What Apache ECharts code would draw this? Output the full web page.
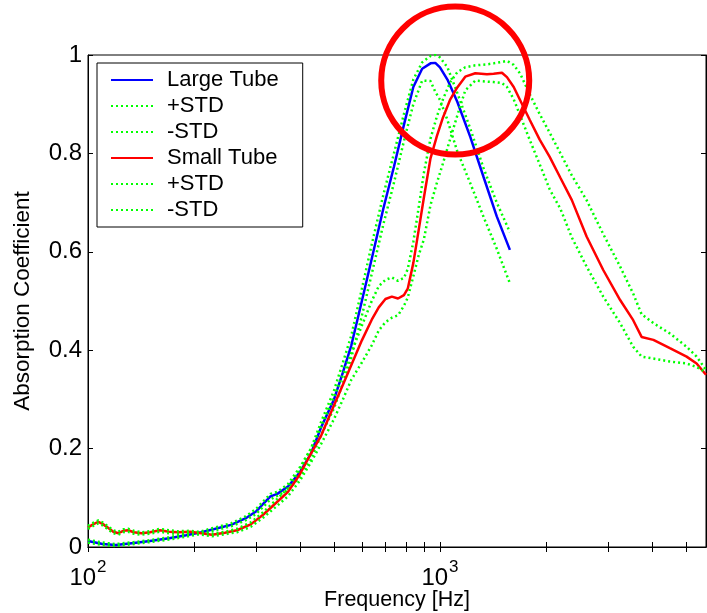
<!DOCTYPE html>
<html><head><meta charset="utf-8">
<script src="https://cdn.jsdelivr.net/npm/echarts@6/dist/echarts.min.js"></script>
<style>html,body{margin:0;padding:0;background:#fff}#c{width:707px;height:613px}</style>
</head><body><div id="c"></div>
<script>
// ---- data ----
const largeFreq=[100,110,120,135,150,170,190,210,230,255,280,300,315,330,345,370,400,430,460,500,530,560,600,640,690,740,790,840,890,940,970,1000,1050,1120,1220,1330,1450,1580];
const largeMean=[0.012,0.006,0.004,0.008,0.012,0.018,0.024,0.030,0.037,0.045,0.058,0.072,0.088,0.103,0.108,0.123,0.152,0.19,0.244,0.30,0.355,0.41,0.50,0.586,0.687,0.773,0.858,0.935,0.972,0.983,0.984,0.975,0.95,0.905,0.833,0.752,0.672,0.604];
const largePlus=[0.015,0.009,0.006,0.010,0.014,0.020,0.026,0.032,0.040,0.048,0.062,0.077,0.093,0.108,0.112,0.128,0.162,0.20,0.255,0.318,0.375,0.43,0.525,0.615,0.715,0.80,0.88,0.95,0.985,0.998,1.0,0.995,0.975,0.923,0.85,0.77,0.70,0.64];
const largeMinus=[0.009,0.004,0.002,0.006,0.010,0.015,0.021,0.027,0.034,0.042,0.054,0.067,0.082,0.097,0.104,0.116,0.142,0.178,0.228,0.282,0.333,0.385,0.47,0.555,0.655,0.74,0.825,0.90,0.948,0.947,0.925,0.909,0.868,0.804,0.739,0.671,0.606,0.536];

const smallFreq=[100,104,107,110,114,118,122,126,130,135,142,150,160,170,180,195,210,225,245,265,290,315,345,370,400,430,460,500,530,560,600,640,670,700,730,760,790,810,840,870,900,940,980,1020,1070,1120,1180,1260,1360,1420,1500,1550,1620,1690,1800,1920,2050,2200,2370,2610,2910,3250,3540,3740,4040,4500,5020,5360,5700];
const smallMean=[0.040,0.047,0.051,0.047,0.039,0.031,0.028,0.033,0.034,0.030,0.028,0.030,0.034,0.031,0.030,0.031,0.028,0.025,0.029,0.034,0.046,0.066,0.092,0.112,0.148,0.19,0.227,0.288,0.33,0.37,0.42,0.462,0.487,0.504,0.509,0.505,0.512,0.525,0.577,0.644,0.71,0.79,0.835,0.873,0.91,0.934,0.956,0.963,0.961,0.962,0.964,0.955,0.935,0.908,0.868,0.828,0.793,0.75,0.705,0.631,0.563,0.502,0.461,0.427,0.421,0.404,0.387,0.373,0.35];
const smallPlus=[0.043,0.050,0.054,0.050,0.042,0.034,0.031,0.036,0.037,0.033,0.030,0.032,0.037,0.034,0.032,0.033,0.030,0.027,0.031,0.037,0.050,0.071,0.098,0.12,0.158,0.20,0.245,0.305,0.35,0.395,0.45,0.50,0.53,0.543,0.548,0.541,0.547,0.565,0.62,0.69,0.76,0.83,0.875,0.91,0.945,0.965,0.975,0.979,0.981,0.983,0.986,0.988,0.98,0.962,0.92,0.88,0.842,0.80,0.755,0.705,0.636,0.57,0.515,0.473,0.455,0.434,0.407,0.387,0.36];
const smallMinus=[0.037,0.044,0.048,0.044,0.036,0.028,0.025,0.030,0.031,0.027,0.025,0.027,0.031,0.028,0.027,0.028,0.025,0.022,0.026,0.030,0.041,0.060,0.084,0.103,0.135,0.172,0.21,0.26,0.30,0.34,0.375,0.41,0.44,0.457,0.466,0.471,0.49,0.507,0.55,0.593,0.625,0.695,0.74,0.78,0.83,0.877,0.928,0.948,0.946,0.945,0.943,0.935,0.91,0.877,0.827,0.778,0.727,0.687,0.629,0.57,0.509,0.455,0.407,0.387,0.383,0.377,0.373,0.366,0.355];

const xLabelValues=[100,1000];
const xTickValues=[100,200,300,400,500,600,700,800,900,1000,2000,3000,4000,5000];
const yTickInterval=0.2;
const legendNames=['large','largePlus','largeMinus','small','smallPlus','smallMinus'];
const legendLabels={large:'Large Tube',largePlus:'+STD',largeMinus:'-STD',small:'Small Tube',smallPlus:'+STD',smallMinus:'-STD'};
const xName='Frequency [Hz]';
const yName='Absorption Coefficient';
const highlight={freq:1105,value:0.948,radius:74};

// ---- chart ----
const FONT='"Liberation Sans", Arial, Helvetica, sans-serif';
const pairs=(f,v)=>f.map((x,i)=>[x,v[i]]);
const chart=echarts.init(document.getElementById('c'),null,{renderer:'canvas'});

const tickStyle={show:true,inside:true,length:5,lineStyle:{color:'#000',width:1}};
const axisLine={show:true,lineStyle:{color:'#000',width:1}};

function solid(name,color,f,v){return {name,type:'line',data:pairs(f,v),symbol:'none',showSymbol:false,smooth:false,
  lineStyle:{color,width:2.5,type:'solid'},itemStyle:{color},animation:false};}
function dotted(name,f,v){return {name,type:'line',data:pairs(f,v),symbol:'none',showSymbol:false,smooth:false,
  lineStyle:{color:'#00ff00',width:2.5,type:[2,3],cap:'butt'},itemStyle:{color:'#00ff00'},animation:false};}

const option={
  backgroundColor:'#fff',
  animation:false,
  grid:{left:88,top:55,right:1,bottom:66,containLabel:false,outerBoundsMode:'none',
        show:true,borderColor:'#000',borderWidth:1,backgroundColor:'transparent'},
  legend:{
    data:legendNames, orient:'vertical', left:97, top:63,
    itemWidth:42, itemHeight:6, itemGap:0,
    padding:[4,24,4,13],
    borderColor:'#000', borderWidth:1, borderRadius:0, backgroundColor:'#fff',
    selectedMode:false,
    itemStyle:{opacity:0,borderWidth:0},
    formatter:n=>legendLabels[n],
    textStyle:{fontFamily:FONT,fontSize:22,color:'#000',lineHeight:26,padding:[0,0,0,9]}
  },
  xAxis:[
    {type:'log',logBase:10,min:100,max:5700,position:'bottom',
     name:xName,nameLocation:'middle',nameGap:42,nameMoveOverlap:false,
     nameTextStyle:{fontFamily:FONT,fontSize:21.5,color:'#000'},
     axisLine, splitLine:{show:false}, minorTick:{show:false},
     axisTick:Object.assign({},tickStyle,{customValues:xTickValues}),
     axisLabel:{customValues:xLabelValues,margin:12,color:'#000',fontFamily:FONT,
       formatter:v=>'{b|10}{s|'+Math.round(Math.log10(v))+'}',
       rich:{b:{fontFamily:FONT,fontSize:24,color:'#000',verticalAlign:'bottom'},
             s:{fontFamily:FONT,fontSize:17,color:'#000',verticalAlign:'bottom',padding:[0,0,14,1]}}}
    },
    {type:'log',logBase:10,min:100,max:5700,position:'top',
     axisLine, splitLine:{show:false},
     axisTick:Object.assign({},tickStyle,{customValues:xTickValues}),
     axisLabel:{show:false}}
  ],
  yAxis:[
    {type:'value',min:0,max:1,interval:yTickInterval,position:'left',
     name:yName,nameLocation:'middle',nameGap:54,nameMoveOverlap:false,
     nameTextStyle:{fontFamily:FONT,fontSize:22.5,color:'#000'},
     axisLine, splitLine:{show:false}, axisTick:tickStyle,
     axisLabel:{margin:6,fontFamily:FONT,fontSize:24,color:'#000'}},
    {type:'value',min:0,max:1,interval:yTickInterval,position:'right',
     axisLine, splitLine:{show:false}, axisTick:tickStyle, axisLabel:{show:false}}
  ],
  series:[
    solid('large','#0000ff',largeFreq,largeMean),
    dotted('largePlus',largeFreq,largePlus),
    dotted('largeMinus',largeFreq,largeMinus),
    solid('small','#ff0000',smallFreq,smallMean),
    dotted('smallPlus',smallFreq,smallPlus),
    dotted('smallMinus',smallFreq,smallMinus)
  ]
};
chart.setOption(option);
const c=chart.convertToPixel({xAxisIndex:0,yAxisIndex:0},[highlight.freq,highlight.value]);
chart.setOption({graphic:[{type:'circle',z:100,silent:true,shape:{cx:c[0],cy:c[1],r:highlight.radius},
  style:{fill:'none',stroke:'#ff0000',lineWidth:6}}]});
</script></body></html>
